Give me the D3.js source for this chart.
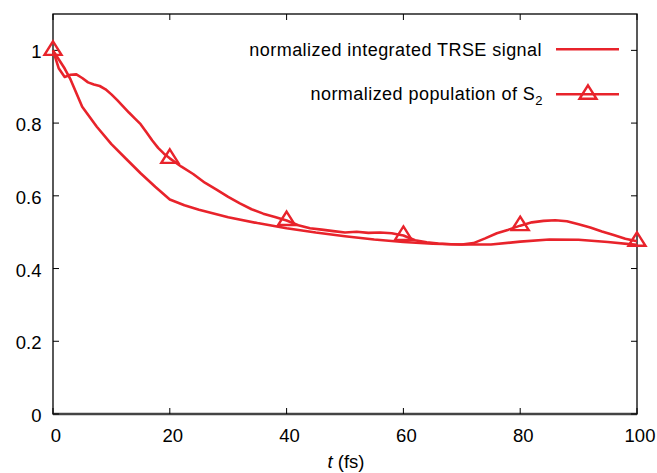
<!DOCTYPE html>
<html><head><meta charset="utf-8">
<script src="https://cdn.jsdelivr.net/npm/d3@7"></script>
<style>body{margin:0;background:#fff}svg{display:block;font-family:"Liberation Sans",Arial,sans-serif}</style>
</head><body><svg id="c" width="657" height="473"></svg>
<script>
// TRSE signal (lower, smooth)
const trseT = [0,1,2,3,5,7.5,10,12.5,15,17.5,20,22.5,25,30,35,40,45,50,55,60,65,70,75,80,85,90,95,100];
const trseV = [1.0,0.975,0.95,0.92,0.845,0.79,0.742,0.702,0.662,0.625,0.590,0.574,0.562,0.541,0.525,0.511,0.499,0.489,0.480,0.473,0.468,0.466,0.466,0.474,0.480,0.479,0.473,0.465];
// population of S2 (upper, wiggly)
const popT = [0,1,2,3,4,5,6,7,8,9,10,11,12,13,14,15,16,17,18,19,20,22,24,26,28,30,32,34,36,38,40,42,44,46,48,50,52,54,56,58,60,62,64,66,68,70,72,74,76,78,80,82,84,86,88,90,92,94,96,98,100];
const popV = [1.0,0.95,0.927,0.933,0.934,0.924,0.912,0.906,0.902,0.893,0.879,0.863,0.846,0.829,0.813,0.797,0.775,0.752,0.732,0.716,0.703,0.680,0.660,0.636,0.617,0.597,0.579,0.563,0.551,0.542,0.532,0.519,0.511,0.507,0.503,0.499,0.501,0.498,0.499,0.497,0.491,0.478,0.472,0.469,0.467,0.466,0.470,0.483,0.497,0.507,0.518,0.527,0.531,0.533,0.530,0.522,0.513,0.502,0.492,0.482,0.475];
const markT = [0,20,40,60,80,100];
const markV = [1.0,0.703,0.532,0.491,0.518,0.475];
const xTicks = [0,20,40,60,80,100];
const yTicks = [0,0.2,0.4,0.6,0.8,1];
const yTickLabels = ["0","0.2","0.4","0.6","0.8","1"];
const legendLabels = ["normalized integrated TRSE signal","normalized population of S"];

const red = "#e8232b";
const svg = d3.select("#c");
const L=53,R=637,T=14,B=414;
const x = d3.scaleLinear().domain([0,100]).range([L,R]);
const y = d3.scaleLinear().domain([0,1.1]).range([B,T]);

// frame
svg.append("rect").attr("x",L).attr("y",T).attr("width",R-L).attr("height",B-T).attr("fill","none").attr("stroke","#000").attr("stroke-width",1.3);
svg.append("line").attr("x1",L).attr("x2",R).attr("y1",B).attr("y2",B).attr("stroke","#444").attr("stroke-width",2.5);

// ticks
const fs=18.5;
const gx = svg.append("g");
xTicks.forEach(t=>{
  gx.append("line").attr("x1",x(t)).attr("x2",x(t)).attr("y1",B).attr("y2",B-6).attr("stroke","#000").attr("stroke-width",1);
  gx.append("line").attr("x1",x(t)).attr("x2",x(t)).attr("y1",T).attr("y2",T+6).attr("stroke","#000").attr("stroke-width",1);
  gx.append("text").attr("x",x(t)+3).attr("y",441.7).attr("text-anchor","middle").attr("font-size",fs).text(t);
});
yTicks.forEach((v,i)=>{
  gx.append("line").attr("x1",L).attr("x2",L+6).attr("y1",y(v)).attr("y2",y(v)).attr("stroke","#000").attr("stroke-width",1);
  gx.append("line").attr("x1",R).attr("x2",R-6).attr("y1",y(v)).attr("y2",y(v)).attr("stroke","#000").attr("stroke-width",1);
  gx.append("text").attr("x",41.5).attr("y",y(v)+8).attr("text-anchor","end").attr("font-size",fs).text(yTickLabels[i]);
});
const xt = svg.append("text").attr("x",346).attr("y",468).attr("text-anchor","middle").attr("font-size",fs);
xt.append("tspan").attr("font-style","italic").text("t");
xt.append("tspan").text(" (fs)");

// curves
const line = d3.line().x(d=>x(d[0])).y(d=>y(d[1]));
svg.append("path").datum(trseT.map((t,i)=>[t,trseV[i]])).attr("d",line).attr("fill","none").attr("stroke",red).attr("stroke-width",2.6).attr("stroke-linejoin","round");
svg.append("path").datum(popT.map((t,i)=>[t,popV[i]])).attr("d",line).attr("fill","none").attr("stroke",red).attr("stroke-width",2.6).attr("stroke-linejoin","round");

const tri = (cx,cy)=>`M${cx},${cy-9}L${cx+8.5},${cy+4.5}L${cx-8.5},${cy+4.5}Z`;
markT.forEach((t,i)=>{
  svg.append("path").attr("d",tri(x(t),y(markV[i]))).attr("fill","none").attr("stroke",red).attr("stroke-width",2.4);
});

// legend
const lf=18;
svg.append("text").attr("x",542).attr("y",55.5).attr("text-anchor","end").attr("font-size",lf).attr("letter-spacing",0.45).text(legendLabels[0]);
const l2 = svg.append("text").attr("x",543).attr("y",100).attr("text-anchor","end").attr("font-size",lf).attr("letter-spacing",0.45);
l2.append("tspan").text(legendLabels[1]);
l2.append("tspan").attr("font-size",13).attr("dy",5).text("2");
svg.append("line").attr("x1",556).attr("x2",619).attr("y1",49.3).attr("y2",49.3).attr("stroke",red).attr("stroke-width",2.6);
svg.append("line").attr("x1",556).attr("x2",619).attr("y1",94.3).attr("y2",94.3).attr("stroke",red).attr("stroke-width",2.6);
svg.append("path").attr("d",tri(588,94.3)).attr("fill","none").attr("stroke",red).attr("stroke-width",2.4);
</script></body></html>
